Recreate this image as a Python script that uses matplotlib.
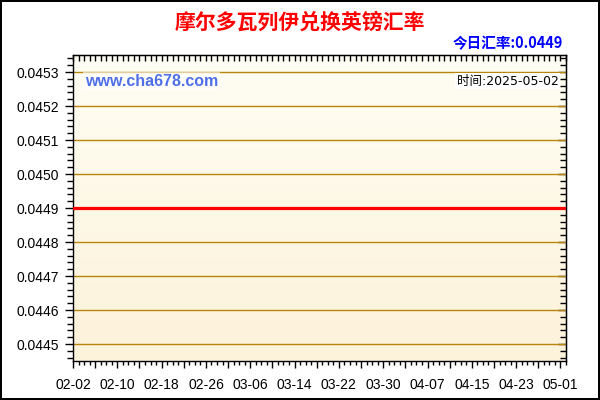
import numpy as np
import pandas as pd
import matplotlib
matplotlib.use("Agg")
import matplotlib.pyplot as plt
import matplotlib.dates as mdates
from matplotlib.colors import LinearSegmentedColormap

plt.rcParams['font.family'] = ['Liberation Sans', 'Noto Sans CJK SC', 'DejaVu Sans']

# data: daily MDL -> GBP rate, 2025-02-02 .. 2025-05-02
start_date = "2025-02-02"
end_date = "2025-05-02"
rates = [
    0.0449, 0.0449, 0.0449, 0.0449, 0.0449, 0.0449, 0.0449, 0.0449, 0.0449, 0.0449,
    0.0449, 0.0449, 0.0449, 0.0449, 0.0449, 0.0449, 0.0449, 0.0449, 0.0449, 0.0449,
    0.0449, 0.0449, 0.0449, 0.0449, 0.0449, 0.0449, 0.0449, 0.0449, 0.0449, 0.0449,
    0.0449, 0.0449, 0.0449, 0.0449, 0.0449, 0.0449, 0.0449, 0.0449, 0.0449, 0.0449,
    0.0449, 0.0449, 0.0449, 0.0449, 0.0449, 0.0449, 0.0449, 0.0449, 0.0449, 0.0449,
    0.0449, 0.0449, 0.0449, 0.0449, 0.0449, 0.0449, 0.0449, 0.0449, 0.0449, 0.0449,
    0.0449, 0.0449, 0.0449, 0.0449, 0.0449, 0.0449, 0.0449, 0.0449, 0.0449, 0.0449,
    0.0449, 0.0449, 0.0449, 0.0449, 0.0449, 0.0449, 0.0449, 0.0449, 0.0449, 0.0449,
    0.0449, 0.0449, 0.0449, 0.0449, 0.0449, 0.0449, 0.0449, 0.0449, 0.0449, 0.0449,
]
dates = pd.date_range(start_date, end_date, freq="D")
y_ticks = [0.0445, 0.0446, 0.0447, 0.0448, 0.0449, 0.0450, 0.0451, 0.0452, 0.0453]
title = "摩尔多瓦列伊兑换英镑汇率"
today_rate = "今日汇率:0.0449"
time_text = "时间:2025-05-02"

cjk = ["Noto Sans CJK SC", "DejaVu Sans"]

fig = plt.figure(figsize=(6, 4), dpi=100)
fig.patch.set_facecolor("white")
fig.patch.set_edgecolor("black")
fig.patch.set_linewidth(1.5)

ax = fig.add_axes([73 / 600, 1 - 361 / 400, 493 / 600, 306 / 400])

# gradient background
cmap = LinearSegmentedColormap.from_list("bg", ["#FDF2DA", "#FFFEF4"])
grad = np.linspace(0, 1, 256).reshape(-1, 1)
ax.imshow(grad, cmap=cmap, aspect="auto", extent=[0, 1, 0, 1],
          transform=ax.transAxes, origin="lower", zorder=0)

for yt in y_ticks:
    ax.axhline(yt, color="#B8860B", lw=1.0, zorder=1)

ax.plot(dates, rates, color="#FF0000", lw=2.3, zorder=3)

ax.set_xlim(mdates.date2num(pd.Timestamp(start_date)), mdates.date2num(pd.Timestamp(end_date)))
ax.set_ylim(0.04445, 0.04535)

ax.set_yticks(y_ticks)
ax.set_yticklabels([f"{v:.4f}" for v in y_ticks], fontsize=10)
ax.yaxis.set_minor_locator(matplotlib.ticker.MultipleLocator(0.00002))

major_x = pd.date_range(start_date, end_date, freq="4D")
ax.set_xticks(mdates.date2num(major_x))
ax.set_xticklabels([d.strftime("%m-%d") if i % 2 == 0 else "" for i, d in enumerate(major_x)],
                   fontsize=10)
ax.xaxis.set_minor_locator(mdates.DayLocator())

ax.tick_params(axis="y", which="major", direction="out", length=6, width=1, pad=4)
ax.tick_params(axis="y", which="minor", direction="out", length=4, width=1)
ax.tick_params(axis="x", which="major", direction="out", length=5, width=1, pad=7)
ax.tick_params(axis="x", which="minor", direction="out", length=3, width=1)

# right and top: inward ticks, no labels
right = ax.secondary_yaxis("right")
right.set_yticks(y_ticks)
right.yaxis.set_minor_locator(matplotlib.ticker.MultipleLocator(0.00002))
right.tick_params(which="major", direction="in", length=6, width=1, labelright=False)
right.tick_params(which="minor", direction="in", length=4, width=1)
top = ax.secondary_xaxis("top")
top.xaxis.set_major_locator(mdates.DayLocator())
top.tick_params(which="major", direction="in", length=4, width=1, labeltop=False)

for s in ax.spines.values():
    s.set_color("black")
    s.set_linewidth(1)

ax.text(0.024, 0.915, "www.cha678.com", transform=ax.transAxes, fontsize=11.5,
        fontweight="bold", color="#4F6FE8", ha="left", va="center", zorder=4,
        bbox=dict(facecolor="white", edgecolor="none", alpha=0.6, pad=1))
ax.text(0.985, 0.915, time_text, transform=ax.transAxes, fontsize=9,
        color="black", ha="right", va="center", zorder=4,
        family=["DejaVu Sans", "Noto Sans CJK SC"],
        bbox=dict(facecolor="white", edgecolor="none", pad=1))

fig.text(0.5, 1 - 22 / 400, title, fontsize=15, fontweight="bold", color="#FF0000",
         ha="center", va="center", family=cjk)
fig.text(563 / 600, 1 - 43 / 400, today_rate, fontsize=10.5, fontweight="bold",
         color="#0000FF", ha="right", va="center", family=cjk)

fig.savefig("out.png", dpi=100, facecolor=fig.get_facecolor(), edgecolor=fig.get_edgecolor())
